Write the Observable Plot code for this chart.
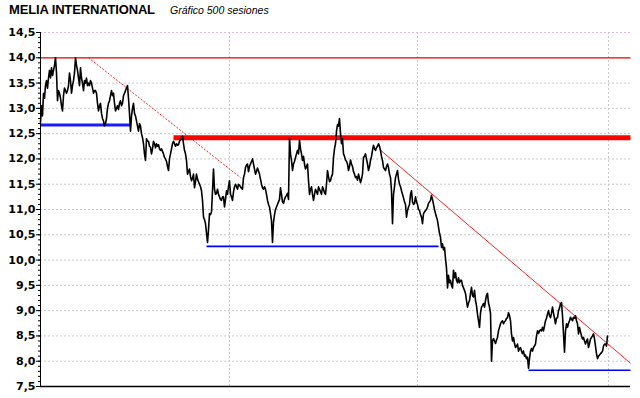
<!DOCTYPE html>
<html>
<head>
<meta charset="utf-8">
<script src="https://cdn.jsdelivr.net/npm/d3@7"></script>
<script src="https://cdn.jsdelivr.net/npm/@observablehq/plot@0.6"></script>
<style>
  html, body { margin: 0; padding: 0; background: #fff; }
  #wrap { position: relative; width: 640px; height: 398px; }
  #title { position: absolute; left: 9px; top: 2px; font: bold 13px "Liberation Sans", Arial, sans-serif; letter-spacing: -0.15px; color: #000; }
  #sub { position: absolute; left: 170px; top: 4px; font: italic 10.5px "Liberation Sans", Arial, sans-serif; color: #000; }
  #chart svg text { font-family: "DejaVu Sans", sans-serif; font-weight: bold; }
</style>
</head>
<body>
<div id="wrap">
  <div id="chart"></div>
  <div id="title">MELIA INTERNATIONAL</div>
  <div id="sub">Gráfico 500 sesiones</div>
</div>
<script>
// Closing prices (one reading per horizontal pixel)
const prices = [
  12.72, 13.05, 12.85, 13.3, 13.2, 13.45, 13.55, 13.4, 13.6, 13.75,
  13.6, 13.8, 13.65, 13.75, 13.85, 14.0, 13.7, 13.15, 13.35, 13.3,
  13.2, 13.05, 12.95, 13.25, 13.4, 13.35, 13.3, 13.35, 13.45, 13.7,
  13.55, 13.3, 13.45, 13.55, 13.7, 14.0, 13.85, 13.75, 13.6, 13.45,
  13.8, 13.6, 13.5, 13.35, 13.55, 13.5, 13.6, 13.45, 13.5, 13.45,
  13.55, 13.5, 13.4, 13.3, 13.35, 13.35, 13.3, 13.1, 12.95, 13.05,
  13.1, 12.9, 12.8, 12.75, 12.65, 12.7, 12.8, 13.0, 13.1, 13.15,
  13.25, 13.35, 13.25, 13.3, 13.1, 12.95, 13.0, 13.05, 12.98, 13.1,
  13.15, 13.05, 13.1, 13.25, 13.3, 13.35, 13.4, 13.45, 13.2, 12.9,
  12.55, 12.85, 13.0, 13.1, 12.9, 12.85, 12.75, 12.65, 12.55, 12.7,
  12.65, 12.5, 12.42, 12.3, 12.1, 11.97, 12.4, 12.35, 12.35, 12.25,
  12.23, 12.1, 12.2, 12.35, 12.3, 12.22, 12.3, 12.25, 12.28, 12.2,
  12.17, 12.2, 12.15, 12.1, 12.03, 12.0, 11.95, 11.85, 11.77, 12.0,
  12.1, 12.2, 12.3, 12.35, 12.3, 12.25, 12.3, 12.27, 12.28, 12.35,
  12.38, 12.4, 12.45, 12.3, 12.17, 12.1, 11.97, 11.7, 11.75, 11.8,
  11.65, 11.57, 11.62, 11.7, 11.43, 11.55, 11.7, 11.6, 11.55, 11.5,
  11.45, 11.37, 11.18, 10.85, 10.8, 10.72, 10.53, 10.35, 10.6, 10.92,
  10.9, 10.95, 11.37, 11.8, 11.4, 11.3, 11.32, 11.4, 11.3, 11.25,
  11.2, 11.18, 11.25, 11.25, 11.05, 11.2, 11.37, 11.3, 11.45, 11.57,
  11.3, 11.25, 11.18, 11.35, 11.45, 11.5, 11.45, 11.4, 11.5, 11.48,
  11.45, 11.42, 11.4, 11.63, 11.7, 11.83, 11.88, 11.9, 11.75, 11.85,
  11.9, 11.95, 12.0, 11.9, 11.8, 11.7, 11.75, 11.82, 11.76, 11.7,
  11.6, 11.5, 11.43, 11.4, 11.45, 11.4, 11.3, 11.18, 11.1, 11.05,
  10.92, 10.78, 10.35, 10.75, 10.9, 11.0, 11.05, 11.1, 11.15, 11.2,
  11.43, 11.3, 11.15, 11.12, 11.2, 11.25, 11.28, 11.32, 11.2, 12.42,
  12.1, 11.97, 11.77, 11.9, 11.95, 12.03, 12.1, 12.17, 12.1, 12.37,
  12.2, 12.1, 11.97, 12.05, 11.9, 11.8, 11.85, 11.9, 11.57, 11.3,
  11.4, 11.45, 11.3, 11.18, 11.3, 11.4, 11.35, 11.3, 11.45, 11.4,
  11.35, 11.3, 11.45, 11.4, 11.33, 11.3, 11.5, 11.77, 11.65, 11.55,
  11.57, 11.65, 11.7, 12.03, 12.2, 12.3, 12.55, 12.68, 12.65, 12.8,
  12.5, 12.3, 12.4, 12.1, 12.05, 11.98, 11.95, 11.9, 11.77, 11.85,
  11.98, 11.9, 11.85, 11.75, 11.7, 11.63, 11.65, 11.58, 11.7, 11.62,
  11.53, 11.6, 11.7, 12.03, 12.05, 12.1, 12.0, 11.9, 11.77, 11.85,
  11.97, 12.05, 12.17, 12.27, 12.2, 12.17, 12.22, 12.25, 12.3, 12.25,
  12.17, 12.05, 11.97, 11.83, 11.8, 11.77, 11.85, 11.9, 11.83, 11.7,
  11.63, 11.37, 10.72, 11.3, 11.45, 11.63, 11.7, 11.77, 11.6, 11.5,
  11.45, 11.37, 11.3, 11.23, 11.15, 11.1, 10.85, 10.98, 11.05, 11.1,
  11.3, 11.37, 11.15, 11.1, 11.12, 11.25, 11.15, 11.1, 11.0, 10.98,
  10.9, 10.85, 10.72, 10.92, 10.95, 10.98, 11.0, 11.05, 11.12, 11.15,
  11.18, 11.28, 11.2, 11.1, 11.0, 10.92, 10.85, 10.78, 10.65, 10.53,
  10.45, 10.25, 10.32, 10.2, 10.25, 10.03, 9.84, 9.45, 9.7, 9.55,
  9.6, 9.5, 9.45, 9.8, 9.65, 9.75, 9.6, 9.55, 9.65, 9.55,
  9.6, 9.6, 9.5, 9.45, 9.4, 9.34, 9.2, 9.07, 9.15, 9.2,
  9.34, 9.46, 9.3, 9.27, 9.4, 9.2, 9.1, 8.93, 8.8, 8.67,
  8.95, 9.07, 9.1, 9.14, 9.07, 9.2, 9.3, 9.34, 9.15, 9.07,
  8.95, 8.0, 8.4, 8.45, 8.4, 8.35, 8.42, 8.47, 8.6, 8.67,
  8.74, 8.78, 8.8, 8.74, 8.78, 8.8, 8.85, 8.86, 8.96, 8.9,
  8.8, 8.54, 8.4, 8.47, 8.35, 8.27, 8.3, 8.34, 8.2, 8.25,
  8.27, 8.2, 8.15, 8.2, 8.1, 8.12, 8.05, 8.08, 7.86, 8.05,
  8.2, 8.25, 8.2, 8.27, 8.3, 8.34, 8.5, 8.6, 8.55, 8.6,
  8.62, 8.6, 8.67, 8.6, 8.7, 8.8, 8.85, 8.93, 9.0, 8.9,
  8.86, 8.95, 9.07, 8.95, 8.85, 8.74, 8.85, 8.86, 9.0, 9.05,
  9.14, 9.16, 8.9, 8.54, 8.18, 8.6, 8.74, 8.67, 8.75, 8.8,
  8.87, 8.83, 8.8, 8.87, 8.85, 8.9, 8.8, 8.74, 8.54, 8.67,
  8.58, 8.5, 8.44, 8.47, 8.4, 8.34, 8.4, 8.44, 8.27, 8.35,
  8.44, 8.47, 8.5, 8.54, 8.44, 8.3, 8.15, 8.05, 8.1, 8.12,
  8.15, 8.17, 8.2, 8.3, 8.34, 8.34, 8.3, 8.5
];

// Y axis tick values
const majorTicks = [7.5, 8.0, 8.5, 9.0, 9.5, 10.0, 10.5, 11.0, 11.5, 12.0, 12.5, 13.0, 13.5, 14.0, 14.5];
const minorTicks = d3.range(75, 146).map(v => v / 10);
// Vertical grid positions (sample index)
const vGrid = [189, 377, 568];

// Drawn support / resistance lines: [x1, y1, x2, y2]
const resistance14 = [0, 14.0, 590, 14.0];
const dashedTrend = [48, 14.0, 200, 11.63];
const resistance1242 = [133, 12.42, 590, 12.42];
const downTrend = [339, 12.19, 590, 7.96];
const support1267 = [0, 12.67, 90, 12.67];
const support1027 = [166, 10.27, 398, 10.27];
const support782 = [488, 7.82, 590, 7.82];

const seg = (a) => [{x1: a[0], y1: a[1], x2: a[2], y2: a[3]}];
const fmt = d => d.toFixed(1).replace(".", ",");

const chart = Plot.plot({
  width: 640,
  height: 398,
  marginTop: 32,
  marginBottom: 12,
  marginLeft: 40,
  marginRight: 10,
  x: {domain: [0, 590], axis: null},
  y: {domain: [7.5, 14.5], axis: null},
  marks: [
    Plot.gridY(majorTicks.filter(v => v !== 7.5 && v !== 14.0), {stroke: "#c8c8c8", strokeOpacity: 1, strokeDasharray: "2,2"}),
    Plot.ruleY([14.5], {stroke: "#e0b8e0", strokeDasharray: "2,2"}),
    Plot.ruleX(vGrid, {y1: 7.5, y2: 14.5, stroke: "#c8c8c8", strokeDasharray: "2,2"}),
    Plot.link(seg(resistance14), {x1: "x1", y1: "y1", x2: "x2", y2: "y2", stroke: "#e00000", strokeWidth: 1.2}),
    Plot.link(seg(dashedTrend), {x1: "x1", y1: "y1", x2: "x2", y2: "y2", stroke: "#ff2020", strokeWidth: 1, strokeDasharray: "2,1.5"}),
    Plot.link(seg(resistance1242), {x1: "x1", y1: "y1", x2: "x2", y2: "y2", stroke: "#ff0000", strokeWidth: 5}),
    Plot.link(seg(downTrend), {x1: "x1", y1: "y1", x2: "x2", y2: "y2", stroke: "#ff2020", strokeWidth: 1}),
    Plot.link(seg(support1267), {x1: "x1", y1: "y1", x2: "x2", y2: "y2", stroke: "#1a1aff", strokeWidth: 3}),
    Plot.link(seg(support1027), {x1: "x1", y1: "y1", x2: "x2", y2: "y2", stroke: "#0000ff", strokeWidth: 1.6}),
    Plot.link(seg(support782), {x1: "x1", y1: "y1", x2: "x2", y2: "y2", stroke: "#0000ff", strokeWidth: 1.6}),
    Plot.line(prices, {x: (d, i) => i, y: d => d, stroke: "#000", strokeWidth: 1.6}),
    Plot.ruleX([0], {y1: 7.5, y2: 14.5, stroke: "#000", strokeWidth: 1}),
    Plot.ruleY([7.5], {stroke: "#000", strokeWidth: 1.5}),
    Plot.axisY(minorTicks, {tickSize: 2, tickFormat: () => "", label: null, stroke: "#000"}),
    Plot.axisY(majorTicks, {tickSize: 4, tickPadding: 1, tickFormat: fmt, label: null, fontSize: 11, stroke: "#000", fill: "#000"})
  ]
});
document.getElementById("chart").appendChild(chart);
</script>
</body>
</html>
